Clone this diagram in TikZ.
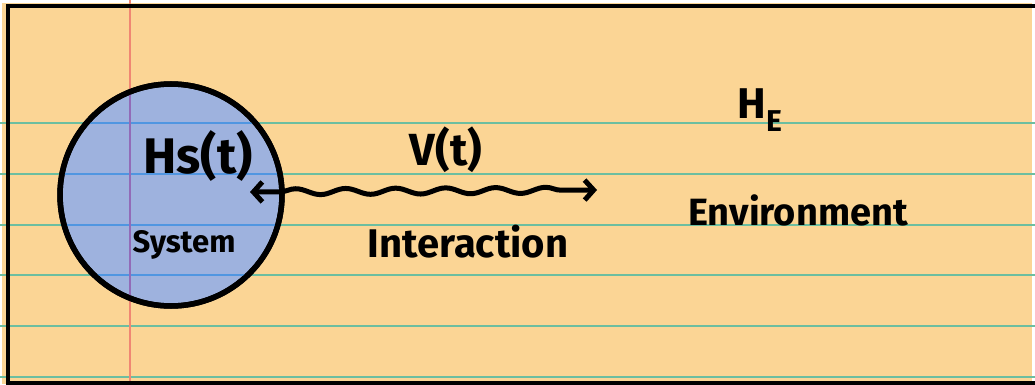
\documentclass[tikz,border=0pt]{standalone}
\usepackage{fontspec}
\setmainfont{Fira Sans}
\usetikzlibrary{arrows.meta,decorations.pathmorphing}
\definecolor{paper}{RGB}{251,213,149}
\definecolor{ballblue}{RGB}{158,178,222}
\definecolor{ruleteal}{RGB}{108,190,160}
\definecolor{ruleblue}{RGB}{80,150,225}
\definecolor{marginred}{RGB}{240,135,115}

\begin{document}
\begin{tikzpicture}[x=1pt, y=-1pt,
  hand/.style={font=\bfseries\fontsize{#1}{#1}\selectfont, inner sep=0pt},
  rule/.style={ruleteal, line width=1.3pt},
  sysball/.style={circle, draw=black, line width=5.5pt, fill=ballblue, minimum size=222pt, inner sep=0pt},
  wave/.style={line width=5pt, line cap=round, {Straight Barb[length=9pt,width=20pt]}-{Straight Barb[length=9pt,width=20pt]},
    decorate, decoration={snake, amplitude=3pt, segment length=50pt, pre length=30pt, post length=14pt}}]
  \useasboundingbox (0,0) rectangle (1035,385);
  % Paper
  \fill[paper] (2,3) rectangle (1032,384);
  % Ruled lines
  \foreach \y in {123,174,225,275,326,377}
    \draw[rule] (0,\y) -- (1035,\y);
  % Margin
  \draw[marginred, line width=1.2pt] (130,0) -- (130,385);
  % Border
  \draw[line width=4pt] (1035,6) -- (8,6) -- (8,383) -- (1035,383);
  % System
  \node[sysball] (sys) at (171,195) {};
  \begin{scope}
    \clip (171,195) circle[radius=110pt];
    \foreach \y in {123,174,225,275}
      \draw[ruleblue, line width=1.3pt] (50,\y) -- (290,\y);
    \draw[violet!40!ballblue, line width=1.2pt] (130,80) -- (130,310);
  \end{scope}
  \draw[line width=5.5pt] (sys) circle[radius=111pt];
  \node[hand=50] (hs) at (198,156) {Hs(t)};
  \node[hand=31] (systxt) at (184,245) {System};
  % Interaction
  \coordinate (sysport) at (250,192);
  \coordinate (envport) at (597,190);
  \draw[wave] (sysport) -- (envport);
  \node[hand=45] (vt) at (446,150) {V(t)};
  \node[hand=40] (inter) at (468,242) {Interaction};
  % Environment
  \node[hand=43] (he) at (760,110) {H\textsubscript{E}};
  \node[hand=38] (envtxt) at (798,210) {Environment};
\end{tikzpicture}
\end{document}
